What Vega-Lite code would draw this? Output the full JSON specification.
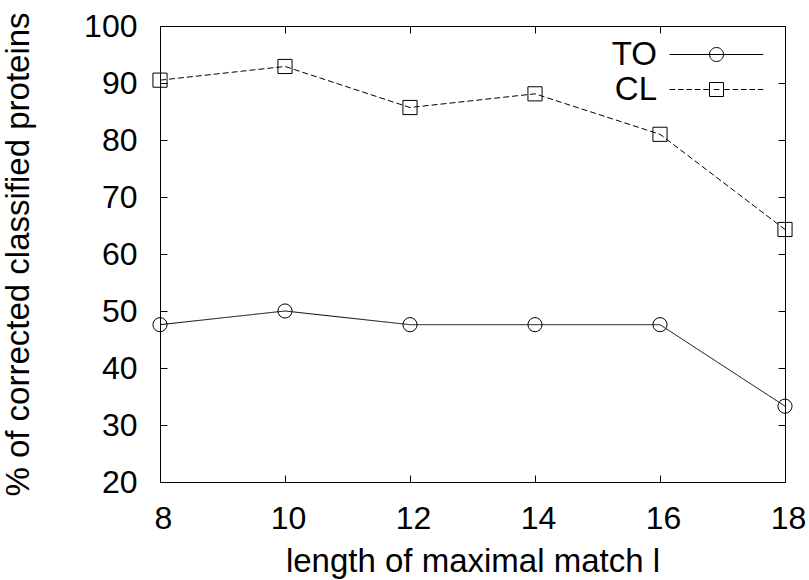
{
  "$schema": "https://vega.github.io/schema/vega-lite/v6.json",
  "width": 625,
  "height": 456,
  "autosize": "none",
  "padding": {"left": 160, "top": 26, "right": 24, "bottom": 98},
  "background": "white",
  "config": {
    "font": "Liberation Sans",
    "view": {"stroke": "black", "strokeWidth": 1},
    "axis": {
      "grid": false,
      "domainColor": "black",
      "domainWidth": 1,
      "tickColor": "black",
      "tickWidth": 1,
      "tickSize": -7,
      "labelFont": "Liberation Sans",
      "labelFontSize": 32,
      "labelColor": "black",
      "titleFont": "Liberation Sans",
      "titleFontSize": 33,
      "titleFontWeight": "normal",
      "titleColor": "black"
    }
  },
  "data": {
    "values": [
      {"l": 8, "series": "TO", "pct": 47.6},
      {"l": 10, "series": "TO", "pct": 50.0},
      {"l": 12, "series": "TO", "pct": 47.6},
      {"l": 14, "series": "TO", "pct": 47.6},
      {"l": 16, "series": "TO", "pct": 47.6},
      {"l": 18, "series": "TO", "pct": 33.3},
      {"l": 8, "series": "CL", "pct": 90.5},
      {"l": 10, "series": "CL", "pct": 92.9},
      {"l": 12, "series": "CL", "pct": 85.7},
      {"l": 14, "series": "CL", "pct": 88.1},
      {"l": 16, "series": "CL", "pct": 81.0},
      {"l": 18, "series": "CL", "pct": 64.3}
    ]
  },
  "resolve": {
    "axis": {"x": "independent", "y": "independent"},
    "scale": {"shape": "independent"},
    "legend": {"shape": "independent"}
  },
  "layer": [
    {
      "mark": {"type": "line", "color": "black", "strokeWidth": 1},
      "encoding": {
        "x": {"field": "l", "type": "quantitative", "scale": {"domain": [8, 18], "nice": false},
              "axis": {"orient": "bottom", "values": [8, 10, 12, 14, 16, 18], "title": "length of maximal match l", "labelPadding": 28, "labelOffset": 3, "titlePadding": 11, "labelFlush": false}},
        "y": {"field": "pct", "type": "quantitative", "scale": {"domain": [20, 100], "nice": false, "zero": false},
              "axis": {"orient": "left", "values": [20, 30, 40, 50, 60, 70, 80, 90, 100], "title": "% of corrected classified proteins", "labelPadding": 30, "titlePadding": 48, "labelFlush": false}},
        "strokeDash": {"field": "series", "type": "nominal", "scale": {"domain": ["TO", "CL"], "range": [[1, 0], [6, 3]]}, "legend": null},
        "detail": {"field": "series"}
      }
    },
    {
      "mark": {"type": "point", "filled": false, "color": "black", "strokeWidth": 1, "size": 200, "opacity": 1},
      "encoding": {
        "x": {"field": "l", "type": "quantitative", "axis": null},
        "y": {"field": "pct", "type": "quantitative", "axis": null},
        "shape": {"field": "series", "type": "nominal", "scale": {"domain": ["TO", "CL"], "range": ["circle", "square"]}, "legend": null}
      }
    },
    {
      "transform": [{"filter": "datum.series == 'none'"}],
      "mark": {"type": "point", "filled": false, "color": "black", "strokeWidth": 1, "size": 196},
      "encoding": {
        "x": {"field": "l", "type": "quantitative", "axis": null},
        "y": {"field": "pct", "type": "quantitative", "axis": null},
        "shape": {
          "field": "series", "type": "nominal",
          "scale": {
            "domain": ["TO", "CL"],
            "range": [
              "M-6.7,0H6.7M1,0A1,1,0,1,1,-1,0A1,1,0,1,1,1,0",
              "M-6.7,0H-5.9M-5.5,0H-4.7M-4.3,0H-3.5M-3.1,0H-2.3M-1.9,0H-1.1M-0.4,0H0.4M1.1,0H1.9M2.3,0H3.1M3.5,0H4.3M4.7,0H5.5M5.9,0H6.7M-1,-1H1V1H-1Z"
            ]
          },
          "legend": {
            "title": null,
            "orient": "none",
            "legendX": 540,
            "legendY": 12,
            "padding": 0,
            "labelAlign": "right",
            "labelOffset": -76,
            "labelFontSize": 33,
            "labelFont": "Liberation Sans",
            "labelColor": "black",
            "symbolSize": 196,
            "symbolStrokeColor": "black",
            "symbolFillColor": "transparent",
            "symbolStrokeWidth": 1,
            "symbolOpacity": 1,
            "rowPadding": 1
          }
        }
      }
    },
    {
      "mark": {"type": "point", "opacity": 0},
      "encoding": {
        "x": {"field": "l", "type": "quantitative",
              "axis": {"orient": "top", "values": [8, 10, 12, 14, 16, 18], "labels": false, "title": null}},
        "y": {"field": "pct", "type": "quantitative",
              "axis": {"orient": "right", "values": [20, 30, 40, 50, 60, 70, 80, 90, 100], "labels": false, "title": null}}
      }
    }
  ]
}
